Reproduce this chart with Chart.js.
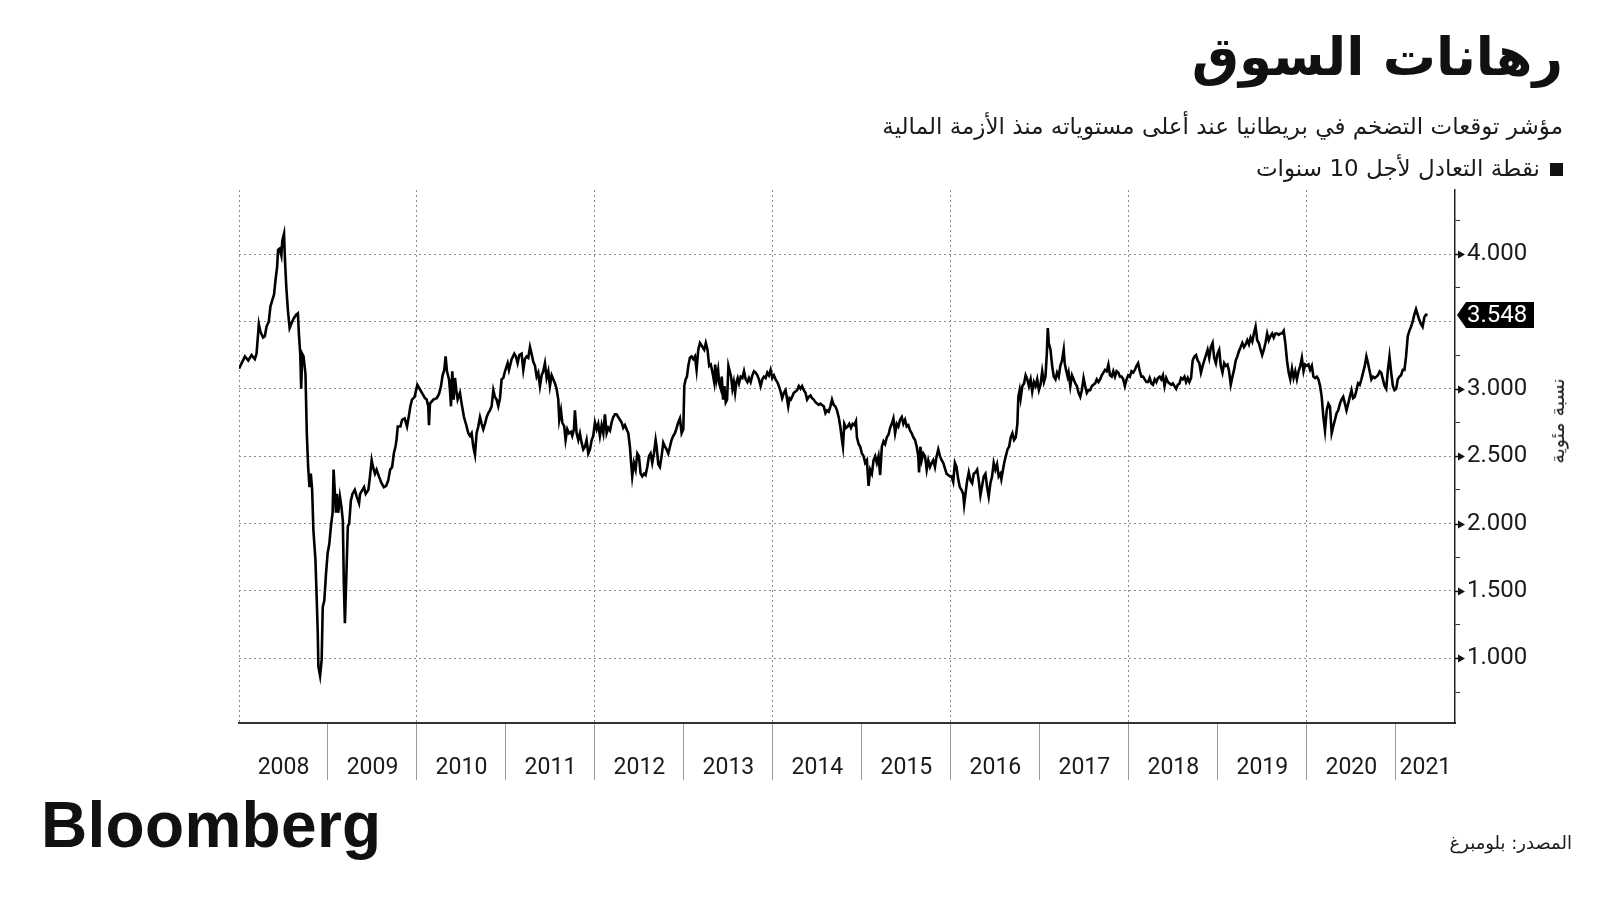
<!DOCTYPE html>
<html lang="ar">
<head>
<meta charset="utf-8">
<title>رهانات السوق</title>
<script src="https://cdn.jsdelivr.net/npm/chart.js@4.4.1/dist/chart.umd.min.js"></script>
<style>
  html, body { margin: 0; padding: 0; background: #fff; }
  body { width: 1600px; height: 900px; position: relative; overflow: hidden; font-family: "DejaVu Sans", sans-serif; color: #111; }
  #chart { position: absolute; left: 0; top: 0; }
  .ar { position: absolute; direction: rtl; white-space: nowrap; }
  #title { right: 37px; top: 26px; font-size: 53px; font-weight: bold; }
  #subtitle { right: 37px; top: 113px; font-size: 23px; color: #1a1a1a; }
  #legend { right: 37px; top: 155px; font-size: 23px; color: #1a1a1a; }
  #legend .sw { display: inline-block; width: 13px; height: 13px; background: #111; margin-left: 10px; }
  #unit { left: 1557px; top: 421px; transform: translate(-50%, -50%) rotate(-90deg); font-size: 19px; color: #1a1a1a; }
  #source { right: 28px; top: 832px; font-size: 18px; color: #1a1a1a; }
  #logo { position: absolute; left: 41px; top: 788px; font-family: "Liberation Sans", Arial, sans-serif; font-weight: bold; font-size: 64px; letter-spacing: 0.3px; color: #111; }
</style>
</head>
<body>
<canvas id="chart" width="1600" height="900"></canvas>
<div id="title" class="ar">رهانات السوق</div>
<div id="subtitle" class="ar">مؤشر توقعات التضخم في بريطانيا عند أعلى مستوياته منذ الأزمة المالية</div>
<div id="legend" class="ar"><span class="sw"></span><span id="legendText"></span></div>
<div id="unit" class="ar">نسبة مئوية</div>
<div id="source" class="ar">المصدر: بلومبرغ</div>
<div id="logo">Bloomberg</div>
<script>
// سلسلة نقطة التعادل لأجل 10 سنوات (القيم مقروءة من الرسم، الزمن بالسنة العشرية)
const seriesName = 'نقطة التعادل لأجل 10 سنوات';

const t0809 = [2008.000,2008.030,2008.067,2008.104,2008.141,2008.178,2008.197,2008.223,2008.242,2008.271,
  2008.290,2008.309,2008.335,2008.353,2008.375,2008.394,2008.409,2008.428,2008.439,2008.457,
  2008.476,2008.487,2008.506,2008.517,2008.532,2008.550,2008.569,2008.587,2008.613,2008.643,
  2008.662,2008.673,2008.688,2008.699,2008.710,2008.725,2008.747,2008.762,2008.777,2008.792,
  2008.807,2008.822,2008.836,2008.859,2008.874,2008.885,2008.892,2008.911,2008.929,2008.941,
  2008.959,2008.978,2008.996,
  2009.015,2009.033,2009.052,2009.063,2009.078,2009.089,2009.100,2009.115,2009.134,2009.152,
  2009.167,2009.178,2009.190,2009.204,2009.223,2009.238,2009.257,2009.275,2009.301,2009.323,
  2009.349,2009.361,2009.387,2009.405,2009.424,2009.454,2009.472,2009.491,2009.506,2009.528,
  2009.546,2009.572,2009.602,2009.628,2009.654,2009.677,2009.699,2009.721,2009.740,2009.758,
  2009.770,2009.784,2009.814,2009.833,2009.862,2009.888,2009.907,2009.926,2009.944,2009.974,
  2010.004];
const v0809 = [3.15,3.19,3.24,3.21,3.25,3.22,3.26,3.48,3.42,3.38,
  3.39,3.46,3.50,3.61,3.66,3.70,3.80,3.90,4.03,4.04,
  3.99,4.10,4.15,3.95,3.75,3.58,3.45,3.48,3.52,3.55,
  3.56,3.41,3.26,3.00,3.26,3.24,3.11,2.67,2.42,2.27,
  2.37,2.25,1.95,1.73,1.43,1.19,0.94,0.87,0.99,1.38,
  1.43,1.63,1.78,
  1.85,1.98,2.08,2.40,2.22,2.08,2.22,2.08,2.20,2.12,
  2.02,1.56,1.26,1.56,1.98,2.00,2.17,2.22,2.25,2.20,
  2.15,2.22,2.25,2.27,2.22,2.25,2.35,2.47,2.42,2.37,
  2.40,2.35,2.30,2.27,2.28,2.32,2.40,2.42,2.52,2.57,
  2.62,2.72,2.72,2.77,2.78,2.72,2.79,2.87,2.92,2.94,
  3.03];

const t1013 = [2010.090,2010.109,2010.127,2010.135,2010.146,2010.184,2010.221,2010.247,2010.270,2010.288,
  2010.307,2010.322,2010.337,2010.360,2010.371,2010.382,2010.397,2010.412,2010.427,2010.442,
  2010.457,2010.483,2010.502,2010.528,2010.558,2010.577,2010.596,2010.614,2010.633,2010.652,
  2010.670,2010.689,2010.708,2010.727,2010.745,2010.764,2010.783,2010.801,2010.820,2010.839,
  2010.858,2010.876,2010.895,2010.914,2010.933,2010.951,2010.970,2010.989,
  2011.019,2011.034,2011.064,2011.094,2011.112,2011.131,2011.150,2011.176,2011.195,2011.213,
  2011.232,2011.251,2011.270,2011.288,2011.307,2011.326,2011.345,2011.363,2011.382,2011.401,
  2011.419,2011.438,2011.457,2011.476,2011.494,2011.513,2011.532,2011.551,2011.569,2011.588,
  2011.599,2011.618,2011.633,2011.655,2011.670,2011.689,2011.708,2011.730,2011.745,2011.764,
  2011.775,2011.794,2011.813,2011.831,2011.850,2011.869,2011.888,2011.906,2011.925,2011.944,
  2011.963,2011.981,
  2012.000,2012.019,2012.037,2012.056,2012.075,2012.094,2012.112,2012.131,2012.150,2012.169,
  2012.187,2012.206,2012.225,2012.243,2012.262,2012.281,2012.300,2012.318,2012.337,2012.356,
  2012.375,2012.393,2012.404,2012.419,2012.438,2012.457,2012.476,2012.494,2012.513,2012.532,
  2012.551,2012.569,2012.588,2012.607,2012.625,2012.644,2012.663,2012.682,2012.693,2012.712,
  2012.730,2012.749,2012.768,2012.787,2012.805,2012.824,2012.843,2012.861,2012.880,2012.899,
  2012.918,2012.936,2012.955,2012.974,2012.993,
  2013.004,2013.019,2013.034,2013.049,2013.067,2013.086,2013.105,2013.124,2013.142,2013.161,2013.180];
const v1013 = [2.93,2.92,2.87,2.73,2.89,2.92,2.93,2.96,3.02,3.10,
  3.14,3.24,3.13,3.07,2.99,2.87,3.13,2.92,3.08,2.99,
  2.92,2.97,2.89,2.79,2.72,2.67,2.65,2.67,2.57,2.51,
  2.67,2.72,2.79,2.74,2.70,2.74,2.79,2.82,2.84,2.87,
  2.99,2.94,2.92,2.87,2.93,3.07,3.08,3.13,
  3.19,3.14,3.22,3.26,3.24,3.19,3.25,3.26,3.14,3.22,
  3.24,3.23,3.31,3.26,3.20,3.17,3.09,3.12,3.02,3.10,
  3.13,3.19,3.08,3.13,3.02,3.10,3.07,3.04,3.00,2.92,
  2.77,2.84,2.75,2.72,2.62,2.70,2.67,2.68,2.65,2.70,
  2.84,2.67,2.62,2.67,2.60,2.55,2.57,2.62,2.52,2.55,
  2.62,2.65,
  2.75,2.70,2.74,2.65,2.73,2.67,2.81,2.67,2.71,2.69,
  2.75,2.79,2.81,2.81,2.79,2.77,2.75,2.71,2.73,2.70,
  2.67,2.57,2.47,2.35,2.45,2.40,2.52,2.50,2.37,2.35,
  2.37,2.36,2.42,2.50,2.52,2.45,2.52,2.62,2.57,2.44,
  2.42,2.50,2.60,2.57,2.55,2.52,2.57,2.62,2.65,2.67,
  2.71,2.75,2.78,2.67,2.70,
  3.02,3.07,3.09,3.17,3.23,3.24,3.22,3.24,3.14,3.29,3.34];

const t1316 = [2013.209,2013.228,2013.246,2013.265,2013.284,2013.302,2013.321,2013.340,2013.351,2013.366,
  2013.384,2013.396,2013.414,2013.425,2013.440,2013.455,2013.470,2013.485,2013.500,2013.515,
  2013.530,2013.545,2013.560,2013.575,2013.590,2013.604,2013.619,2013.638,2013.657,2013.675,
  2013.694,2013.713,2013.731,2013.750,2013.769,2013.787,2013.806,2013.825,2013.843,2013.862,
  2013.881,2013.899,2013.918,2013.937,2013.955,2013.974,2013.993,
  2014.011,2014.030,2014.049,2014.067,2014.086,2014.104,2014.123,2014.142,2014.160,2014.172,
  2014.187,2014.201,2014.216,2014.235,2014.254,2014.272,2014.291,2014.310,2014.328,2014.347,
  2014.366,2014.384,2014.403,2014.422,2014.440,2014.459,2014.478,2014.496,2014.515,2014.534,
  2014.552,2014.571,2014.590,2014.608,2014.627,2014.646,2014.664,2014.683,2014.701,2014.720,
  2014.739,2014.757,2014.776,2014.787,2014.802,2014.821,2014.840,2014.858,2014.877,2014.896,
  2014.914,2014.933,2014.944,2014.963,2014.981,
  2015.000,2015.019,2015.037,2015.056,2015.075,2015.093,2015.112,2015.131,2015.149,2015.168,
  2015.187,2015.205,2015.224,2015.243,2015.261,2015.280,2015.299,2015.317,2015.336,2015.354,
  2015.373,2015.392,2015.410,2015.429,2015.448,2015.466,2015.485,2015.504,2015.522,2015.541,
  2015.560,2015.578,2015.597,2015.616,2015.634,2015.642,2015.657,2015.672,2015.690,2015.709,
  2015.728,2015.746,2015.765,2015.784,2015.802,2015.821,2015.840,2015.858,2015.877,2015.896,
  2015.914,2015.933,2015.951,2015.970,2015.989,
  2016.007,2016.026,2016.045,2016.063,2016.082,2016.101,2016.119,2016.138,2016.149,2016.164,
  2016.183,2016.201,2016.220,2016.239,2016.257,2016.276,2016.295,2016.313,2016.332,2016.351,
  2016.369,2016.388,2016.407,2016.425,2016.444,2016.463,2016.481,2016.500,2016.519,2016.537,
  2016.556,2016.567];
const v1316 = [3.31,3.29,3.34,3.29,3.17,3.18,3.12,3.05,3.18,3.07,
  3.14,3.04,3.00,3.09,2.92,3.02,2.90,2.92,3.17,3.13,
  3.09,3.00,3.05,2.97,3.05,3.08,3.04,3.09,3.08,3.13,
  3.07,3.05,3.08,3.05,3.10,3.13,3.12,3.10,3.07,3.02,
  3.07,3.09,3.08,3.12,3.10,3.14,3.08,
  3.10,3.07,3.05,3.02,2.98,2.93,2.97,2.99,2.92,2.87,
  2.93,2.92,2.94,2.97,2.98,2.99,3.02,3.00,3.02,2.99,
  2.97,2.92,2.94,2.95,2.93,2.92,2.90,2.89,2.88,2.89,
  2.88,2.87,2.82,2.84,2.83,2.87,2.92,2.88,2.87,2.84,
  2.79,2.72,2.62,2.57,2.74,2.71,2.72,2.74,2.71,2.74,
  2.73,2.76,2.64,2.59,2.57,
  2.52,2.50,2.45,2.47,2.28,2.40,2.37,2.47,2.50,2.45,
  2.50,2.36,2.57,2.61,2.59,2.64,2.66,2.71,2.74,2.78,
  2.67,2.74,2.72,2.77,2.79,2.74,2.77,2.72,2.73,2.69,
  2.67,2.64,2.62,2.57,2.50,2.38,2.57,2.47,2.52,2.50,
  2.40,2.47,2.42,2.45,2.47,2.42,2.50,2.55,2.50,2.47,
  2.45,2.41,2.37,2.36,2.35,
  2.35,2.31,2.45,2.42,2.33,2.27,2.25,2.22,2.14,2.22,
  2.32,2.38,2.32,2.30,2.37,2.38,2.40,2.32,2.21,2.28,
  2.35,2.37,2.27,2.20,2.30,2.35,2.45,2.40,2.44,2.35,
  2.37,2.33];

const t1621 = [2016.599,2016.617,2016.636,2016.654,2016.673,2016.691,2016.710,2016.729,2016.747,2016.758,
  2016.773,2016.784,2016.803,2016.822,2016.840,2016.859,2016.877,2016.896,2016.914,2016.933,
  2016.952,2016.970,2016.989,
  2017.007,2017.026,2017.045,2017.063,2017.078,2017.089,2017.100,2017.119,2017.138,2017.156,
  2017.175,2017.193,2017.212,2017.230,2017.249,2017.268,2017.279,2017.294,2017.312,2017.323,
  2017.342,2017.361,2017.379,2017.398,2017.416,2017.435,2017.454,2017.472,2017.491,2017.509,
  2017.528,2017.546,2017.565,2017.584,2017.602,2017.621,2017.639,2017.658,2017.677,2017.695,
  2017.714,2017.732,2017.751,2017.770,2017.788,2017.807,2017.825,2017.844,2017.862,2017.881,
  2017.900,2017.918,2017.937,2017.955,2017.974,2017.993,
  2018.011,2018.030,2018.048,2018.067,2018.086,2018.104,2018.123,2018.141,2018.160,2018.178,
  2018.197,2018.216,2018.234,2018.253,2018.271,2018.290,2018.309,2018.327,2018.346,2018.364,
  2018.383,2018.401,2018.420,2018.439,2018.457,2018.476,2018.494,2018.513,2018.532,2018.550,
  2018.569,2018.587,2018.606,2018.625,2018.643,2018.662,2018.680,2018.699,2018.717,2018.736,
  2018.755,2018.773,2018.792,2018.810,2018.829,2018.848,2018.866,2018.885,2018.903,2018.922,
  2018.941,2018.959,2018.978,2018.996,
  2019.015,2019.033,2019.052,2019.071,2019.089,2019.108,2019.126,2019.145,2019.164,2019.182,
  2019.201,2019.219,2019.238,2019.257,2019.275,2019.294,2019.312,2019.331,2019.349,2019.368,
  2019.387,2019.405,2019.424,2019.442,2019.461,2019.480,2019.498,2019.517,2019.535,2019.554,
  2019.572,2019.591,2019.610,2019.628,2019.647,2019.665,2019.684,2019.703,2019.721,2019.740,
  2019.758,2019.777,2019.796,2019.814,2019.833,2019.851,2019.870,2019.888,2019.907,2019.926,
  2019.944,2019.963,2019.981,
  2020.000,2020.019,2020.037,2020.056,2020.074,2020.093,2020.112,2020.130,2020.149,2020.167,
  2020.186,2020.204,2020.223,2020.242,2020.260,2020.279,2020.297,2020.316,2020.335,2020.353,
  2020.372,2020.390,2020.409,2020.428,2020.446,2020.465,2020.483,2020.502,2020.520,2020.539,
  2020.558,2020.576,2020.595,2020.613,2020.632,2020.651,2020.669,2020.688,2020.706,2020.725,
  2020.743,2020.762,2020.781,2020.799,2020.818,2020.836,2020.855,2020.874,2020.892,2020.911,
  2020.929,2020.948,2020.967,2020.985,
  2021.004,2021.022,2021.041,2021.059,2021.078,2021.097,2021.115,2021.134,2021.152,2021.171,
  2021.190,2021.208,2021.227,2021.245,2021.264,2021.283,2021.301,2021.320,2021.338,2021.357];
const v1621 = [2.45,2.50,2.55,2.57,2.64,2.67,2.62,2.64,2.74,2.94,
  2.99,2.93,3.02,3.04,3.10,3.07,3.02,3.07,2.98,3.05,
  3.02,3.07,2.99,
  3.03,3.13,3.05,3.09,3.26,3.45,3.34,3.29,3.17,3.09,
  3.07,3.12,3.09,3.17,3.21,3.29,3.19,3.14,3.09,3.12,
  3.02,3.10,3.07,3.04,3.02,2.97,2.94,2.99,3.08,3.02,
  2.97,2.99,2.99,3.02,3.03,3.04,3.07,3.05,3.07,3.10,
  3.12,3.14,3.13,3.18,3.10,3.09,3.13,3.09,3.13,3.12,
  3.09,3.09,3.07,3.02,3.07,3.10,
  3.09,3.13,3.12,3.14,3.17,3.19,3.13,3.09,3.09,3.07,
  3.05,3.05,3.08,3.04,3.03,3.07,3.05,3.08,3.09,3.07,
  3.10,3.02,3.08,3.05,3.04,3.03,3.04,3.02,3.00,3.03,
  3.04,3.08,3.07,3.09,3.05,3.08,3.05,3.08,3.21,3.24,
  3.25,3.21,3.19,3.12,3.17,3.21,3.25,3.29,3.23,3.31,
  3.34,3.23,3.19,3.26,
  3.29,3.17,3.12,3.19,3.17,3.18,3.13,3.03,3.09,3.14,
  3.21,3.24,3.28,3.31,3.34,3.31,3.33,3.36,3.33,3.38,
  3.35,3.41,3.46,3.36,3.34,3.29,3.25,3.29,3.34,3.41,
  3.36,3.39,3.41,3.38,3.41,3.41,3.40,3.41,3.41,3.43,
  3.34,3.21,3.12,3.07,3.15,3.08,3.13,3.07,3.13,3.17,
  3.23,3.13,3.18,
  3.17,3.18,3.14,3.17,3.09,3.08,3.09,3.07,3.02,2.94,
  2.79,2.69,2.84,2.89,2.87,2.67,2.72,2.77,2.82,2.84,
  2.89,2.92,2.94,2.89,2.84,2.89,2.94,2.99,2.93,2.94,
  2.99,3.04,3.03,3.07,3.12,3.17,3.24,3.19,3.13,3.07,
  3.09,3.08,3.09,3.10,3.13,3.12,3.07,3.02,3.00,3.14,
  3.24,3.12,3.02,2.99,
  3.00,3.07,3.09,3.10,3.14,3.14,3.24,3.39,3.43,3.46,
  3.50,3.55,3.59,3.55,3.51,3.48,3.46,3.53,3.55,3.548];

// المحاور
const yearLabels = ['2008','2009','2010','2011','2012','2013','2014','2015','2016','2017','2018','2019','2020','2021'];
const yTickValues = [1.0, 1.5, 2.0, 2.5, 3.0, 3.5, 4.0];
const yMinorValues = [0.75, 1.25, 1.75, 2.25, 2.75, 3.25, 3.75, 4.25];
const X_MIN = 2008, X_MAX = 2021.665;
const Y_MIN = 0.52, Y_MAX = 4.475;

function zip(ts, vs) {
  const n = Math.min(ts.length, vs.length);
  const out = [];
  for (let i = 0; i < n; i++) out.push({ x: ts[i], y: vs[i] });
  return out;
}
const points = [].concat(zip(t0809, v0809), zip(t1013, v1013), zip(t1316, v1316), zip(t1621, v1621));
const lastValue = points[points.length - 1].y;

document.getElementById('legendText').innerText = seriesName;

// علامات المحور الأفقي: حدود السنوات + مواضع أسماء السنوات
const xTicks = [];
yearLabels.forEach(l => {
  const yr = +l;
  xTicks.push({ value: yr, edge: true });
  const mid = yr === 2021 ? (yr + X_MAX) / 2 : yr + 0.5;
  xTicks.push({ value: mid, label: l });
});
const yTicks = yTickValues.concat(yMinorValues).sort((a, b) => a - b);
const isMajor = v => yTickValues.some(m => Math.abs(m - v) < 1e-6);

const axisMarks = {
  id: 'axisMarks',
  afterDraw(chart) {
    const ctx = chart.ctx, ys = chart.scales.y;
    ctx.save();
    ctx.fillStyle = '#111';
    ctx.strokeStyle = '#111';
    ctx.lineWidth = 1.5;
    yTickValues.forEach(v => {
      if (Math.abs(v - lastValue) < 0.15) return;
      const py = Math.round(ys.getPixelForValue(v)) + 0.5;
      ctx.beginPath(); ctx.moveTo(ys.left, py); ctx.lineTo(ys.left + 5, py); ctx.stroke();
      ctx.beginPath(); ctx.moveTo(ys.left + 3, py - 4); ctx.lineTo(ys.left + 10, py); ctx.lineTo(ys.left + 3, py + 4); ctx.closePath(); ctx.fill();
    });
    // وسم القيمة الأخيرة
    const py = ys.getPixelForValue(lastValue);
    const x0 = ys.left + 2;
    ctx.fillStyle = '#000';
    ctx.beginPath();
    ctx.moveTo(x0, py);
    ctx.lineTo(x0 + 9, py - 13);
    ctx.lineTo(x0 + 77, py - 13);
    ctx.lineTo(x0 + 77, py + 13);
    ctx.lineTo(x0 + 9, py + 13);
    ctx.closePath();
    ctx.fill();
    ctx.fillStyle = '#fff';
    ctx.font = '24px Roboto';
    ctx.textAlign = 'left';
    ctx.textBaseline = 'middle';
    ctx.fillText(lastValue.toFixed(3), x0 + 10, py + 1);
    ctx.restore();
  }
};

Chart.defaults.font.family = 'Roboto';

new Chart(document.getElementById('chart'), {
  type: 'line',
  data: {
    datasets: [{
      label: seriesName,
      data: points,
      borderColor: '#000',
      borderWidth: 2.6,
      pointRadius: 0,
      tension: 0,
      fill: false
    }]
  },
  options: {
    responsive: false,
    animation: false,
    events: [],
    layout: { padding: { left: 239, top: 190, right: 0, bottom: 0 } },
    plugins: { legend: { display: false }, tooltip: { enabled: false } },
    scales: {
      x: {
        type: 'linear',
        min: X_MIN,
        max: X_MAX,
        afterBuildTicks: s => { s.ticks = xTicks.map(t => ({ value: t.value })); },
        afterFit: s => { s.height = 177; },
        ticks: {
          autoSkip: false,
          maxRotation: 0,
          padding: -26,
          color: '#1a1a1a',
          font: { size: 23 },
          callback: (v, i) => (xTicks[i] && xTicks[i].label) || ''
        },
        grid: {
          lineWidth: 1,
          color: c => {
            const t = xTicks[c.index];
            return t && t.edge && (+t.value) % 2 === 0 ? '#8c8c8c' : 'rgba(0,0,0,0)';
          },
          tickColor: c => {
            const t = xTicks[c.index];
            return t && t.edge && t.value > X_MIN ? '#9a9a9a' : 'rgba(0,0,0,0)';
          },
          tickLength: 57,
          tickWidth: 1,
          tickBorderDash: []
        },
        border: { display: true, color: '#333', width: 2, dash: [2, 3] }
      },
      y: {
        type: 'linear',
        position: 'right',
        min: Y_MIN,
        max: Y_MAX,
        afterBuildTicks: s => { s.ticks = yTicks.map(v => ({ value: v })); },
        afterFit: s => { s.width = 145; },
        ticks: {
          padding: 7,
          color: '#1a1a1a',
          font: { size: 24 },
          callback: v => (isMajor(v) && Math.abs(v - lastValue) >= 0.15) ? v.toFixed(3) : ''
        },
        grid: {
          lineWidth: 1,
          color: c => isMajor(c.tick.value) ? '#8c8c8c' : 'rgba(0,0,0,0)',
          tickColor: c => isMajor(c.tick.value) ? 'rgba(0,0,0,0)' : '#333',
          tickLength: 5,
          tickWidth: 1,
          tickBorderDash: []
        },
        border: { display: true, color: '#222', width: 1.5, dash: [2, 3] }
      }
    }
  },
  plugins: [axisMarks]
});
</script>
</body>
</html>
